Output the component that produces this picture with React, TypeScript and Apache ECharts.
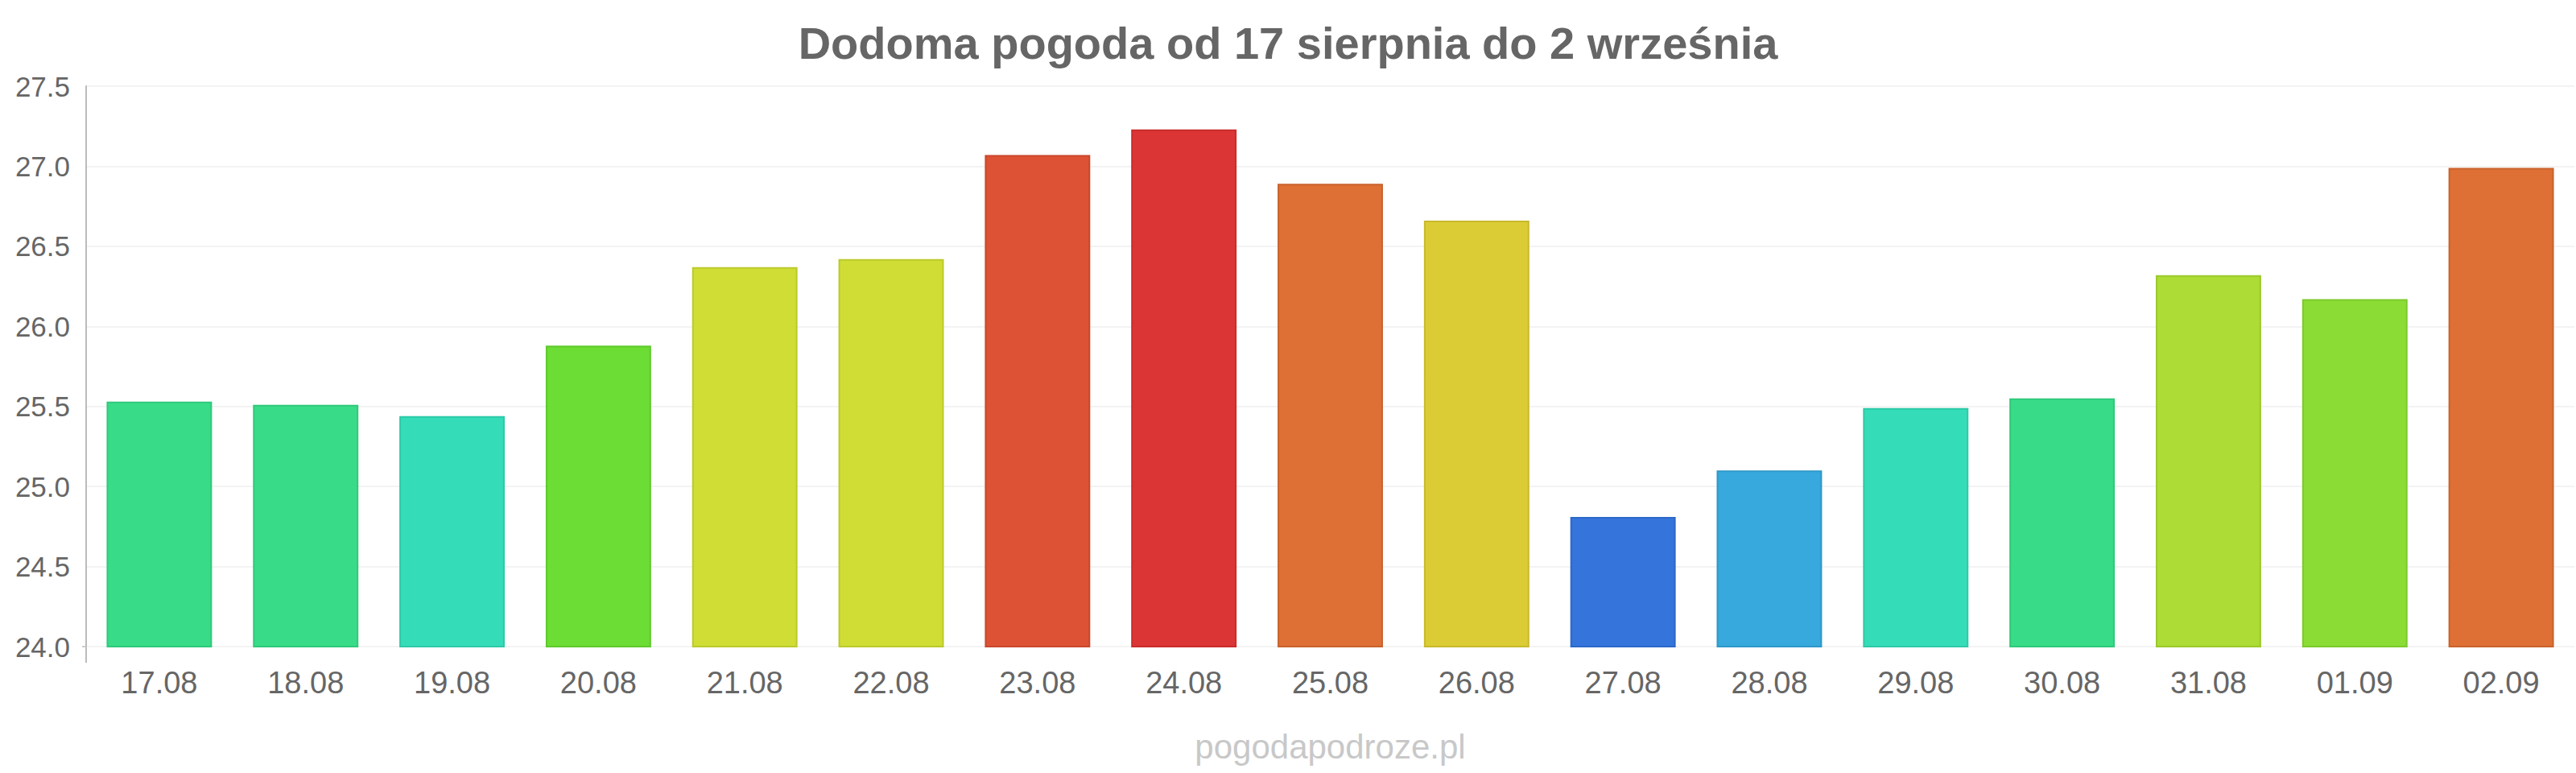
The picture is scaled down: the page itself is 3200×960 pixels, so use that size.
import React, { useEffect, useRef } from "react";
import * as echarts from "echarts";

const titleText = "Dodoma pogoda od 17 sierpnia do 2 września";
const watermark = "pogodapodroze.pl";
const categories = ["17.08", "18.08", "19.08", "20.08", "21.08", "22.08", "23.08", "24.08", "25.08", "26.08", "27.08", "28.08", "29.08", "30.08", "31.08", "01.09", "02.09"];
const temps = [25.53, 25.51, 25.44, 25.88, 26.37, 26.42, 27.07, 27.23, 26.89, 26.66, 24.81, 25.1, 25.49, 25.55, 26.32, 26.17, 26.99];
const barColors = ["#38dc88", "#38dc88", "#35dcb8", "#6cdd35", "#cfdd35", "#cfdd35", "#dd5235", "#dc3535", "#de7035", "#dbcc35", "#3575db", "#37a9dc", "#35dcb8", "#38dc88", "#acdc35", "#8bdd35", "#de7035"];
const borderColors = ["#2fc97a", "#2fc97a", "#2ec9a8", "#5ec92c", "#bcc92c", "#bcc92c", "#c9472c", "#c92c2c", "#c9622c", "#c8b92c", "#2c68c9", "#2e98c9", "#2ec9a8", "#2fc97a", "#9bc92c", "#7cc92c", "#c9622c"];
const yMin = 24;
const yMax = 27.5;
const yStep = 0.5;

const FONT = "'Liberation Sans', Arial, sans-serif";

export default function App() {
  const ref = useRef<HTMLDivElement>(null);
  useEffect(() => {
    document.body.style.margin = "0";
    if (!ref.current) return;
    const chart = echarts.init(ref.current, undefined, { renderer: "svg" });
    const gridLeft = 107;
    const gridRight = 2;
    const gridTop = 107;
    const gridBottom = 157;
    const W = 3200;
    const H = 960;
    chart.setOption({
      animation: false,
      backgroundColor: "#ffffff",
      title: {
        text: titleText,
        left: "center",
        top: 25,
        padding: 0,
        textStyle: { fontFamily: FONT, fontSize: 56, fontWeight: "bold", color: "#666666" },
      },
      grid: { left: gridLeft, right: gridRight, top: gridTop, bottom: gridBottom, containLabel: false },
      xAxis: {
        type: "category",
        data: categories,
        axisLine: { show: false },
        axisTick: { show: false },
        axisLabel: { fontFamily: FONT, fontSize: 38, color: "#666666", margin: 26 },
        splitLine: { show: false },
      },
      yAxis: {
        type: "value",
        min: yMin,
        max: yMax,
        interval: yStep,
        axisLine: { show: true, lineStyle: { color: "#bbbbbb", width: 2 } },
        axisTick: { show: false },
        axisLabel: {
          fontFamily: FONT,
          fontSize: 35,
          color: "#666666",
          margin: 20,
          formatter: (v: number) => v.toFixed(1),
        },
        splitLine: { show: true, lineStyle: { color: "#f3f3f3", width: 2 } },
      },
      series: [
        {
          type: "bar",
          barCategoryGap: "28%",
          data: temps.map((v, i) => ({
            value: v,
            itemStyle: { color: barColors[i], borderColor: borderColors[i], borderWidth: 2 },
          })),
        },
      ],
      graphic: [
        {
          type: "line",
          shape: { x1: gridLeft, y1: H - gridBottom, x2: gridLeft, y2: H - gridBottom + 20 },
          style: { stroke: "#bbbbbb", lineWidth: 2 },
        },
        {
          type: "line",
          shape: { x1: gridLeft - 5, y1: H - gridBottom, x2: gridLeft, y2: H - gridBottom },
          style: { stroke: "#cccccc", lineWidth: 2 },
        },
        {
          type: "text",
          x: (gridLeft + (W - gridRight)) / 2,
          y: 927,
          style: {
            text: watermark,
            fontFamily: FONT,
            fontSize: 42,
            fill: "#c8c8c8",
            textAlign: "center",
            textVerticalAlign: "middle",
          },
        },
      ],
    });
    return () => chart.dispose();
  }, []);
  return <div ref={ref} style={{ width: 3200, height: 960 }} />;
}
